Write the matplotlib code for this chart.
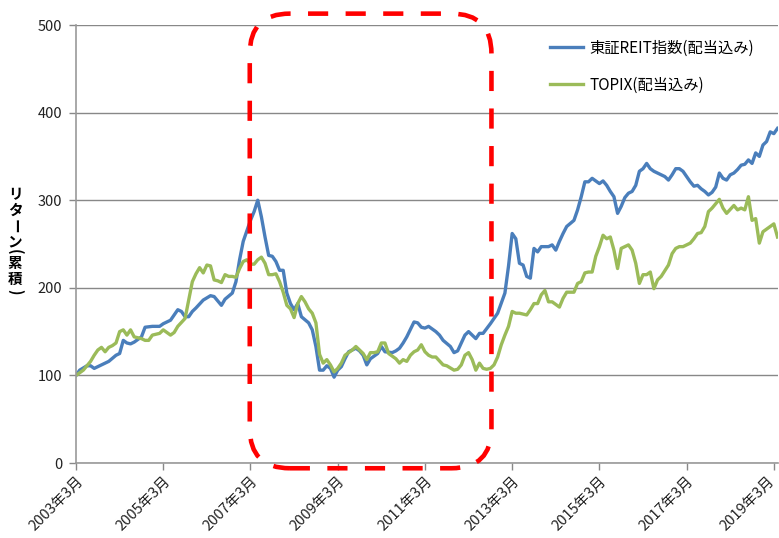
import matplotlib.pyplot as plt
from matplotlib.patches import FancyBboxPatch
from matplotlib.transforms import IdentityTransform

plt.rcParams['font.family'] = ['Noto Sans CJK JP', 'DejaVu Sans']

# months counted from 2003年3月
reit_m = [0, 1, 3, 4, 5, 7, 9, 11, 12, 13, 14, 15, 16, 18, 19, 21, 23, 24, 26, 27,
          28, 29, 30, 31, 32, 33, 35, 37, 38, 40, 41, 43, 44, 45, 46, 48, 49, 50, 51, 52,
          53, 54, 55, 56, 57, 58, 59, 60, 61, 62, 64, 65, 66, 67, 68, 69, 70, 71, 72, 73,
          74, 75, 77, 78, 79, 80, 81, 82, 83, 84, 85, 87, 88, 89, 90, 91, 93, 94, 95, 96,
          97, 99, 100, 101, 103, 104, 105, 107, 108, 110, 111, 112, 114, 115, 116, 118, 119, 120, 121, 122,
          123, 124, 125, 126, 127, 128, 130, 131, 132, 133, 134, 135, 137, 138, 139, 140, 141, 142, 144, 145,
          146, 147, 148, 149, 150, 151, 152, 153, 154, 155, 156, 157, 158, 159, 160, 161, 162, 163, 164, 165,
          166, 167, 168, 169, 170, 171, 172, 173, 174, 175, 176, 177, 178, 179, 180, 181, 182, 183, 184, 185,
          186, 187, 188, 189, 190, 191, 192, 193]
reit = [100, 106, 111, 111, 108, 112, 116, 123, 125, 140, 137, 136, 138, 144, 155, 156, 156, 159, 163, 169,
        175, 173, 167, 167, 173, 177, 186, 191, 190, 180, 187, 194, 207, 232, 253, 277, 287, 300, 281, 258,
        237, 236, 230, 220, 220, 194, 182, 175, 182, 167, 160, 152, 133, 106, 106, 111, 108, 98, 106, 110,
        119, 127, 131, 128, 123, 112, 119, 122, 125, 133, 127, 126, 128, 131, 137, 144, 161, 160, 155, 154,
        156, 150, 146, 140, 133, 126, 128, 146, 150, 142, 148, 148, 159, 165, 171, 194, 225, 262, 256, 228,
        226, 213, 211, 245, 241, 247, 247, 249, 243, 253, 262, 270, 277, 289, 304, 321, 321, 325, 319, 322,
        317, 310, 304, 285, 293, 303, 308, 310, 317, 333, 336, 342, 336, 333, 331, 329, 327, 323, 329, 336,
        336, 333, 327, 321, 316, 317, 313, 310, 306, 309, 315, 331, 325, 323, 329, 331, 335, 340, 341, 346,
        342, 354, 350, 363, 367, 378, 376, 382]

topix_m = [0, 2, 4, 5, 6, 7, 8, 9, 10, 11,
           12, 13, 14, 15, 16, 18, 19, 20, 21, 23,
           24, 26, 27, 28, 30, 31, 32, 33, 34, 35,
           36, 37, 38, 39, 40, 41, 42, 43, 44, 45,
           46, 47, 48, 49, 50, 51, 52, 53, 54, 55,
           56, 57, 58, 59, 60, 61, 62, 63, 64, 65,
           66, 67, 68, 69, 70, 71, 72, 73, 74, 76,
           77, 78, 79, 80, 81, 82, 83, 84, 85, 86,
           87, 88, 89, 90, 91, 92, 93, 94, 95, 96,
           97, 98, 99, 101, 102, 104, 105, 106, 107, 108,
           109, 110, 111, 112, 113, 114, 115, 116, 117, 118,
           119, 120, 121, 122, 124, 125, 126, 127, 128, 129,
           130, 131, 133, 134, 135, 137, 138, 139, 140, 141,
           142, 143, 144, 145, 146, 147, 148, 149, 150, 152,
           153, 154, 155, 156, 157, 158, 159, 160, 161, 163,
           164, 165, 166, 167, 169, 170, 171, 172, 173, 174,
           175, 176, 177, 178, 179, 181, 182, 183, 184, 185,
           186, 187, 188, 189, 191, 192, 193]
topix = [100, 106, 116, 123, 129, 132, 127, 132, 134, 137,
         150, 152, 146, 152, 144, 142, 140, 140, 146, 148,
         152, 146, 149, 156, 165, 186, 207, 216, 223, 217,
         226, 225, 209, 208, 206, 215, 213, 213, 212, 222,
         230, 232, 227, 227, 232, 235, 228, 215, 215, 216,
         207, 195, 180, 176, 166, 182, 190, 184, 176, 171,
         160, 124, 114, 118, 112, 104, 108, 114, 123, 129,
         133, 129, 125, 118, 126, 126, 127, 137, 137, 125,
         122, 119, 114, 118, 116, 123, 127, 129, 135, 127,
         123, 121, 121, 112, 111, 106, 107, 112, 123, 126,
         118, 106, 114, 108, 107, 108, 112, 121, 135, 146,
         156, 173, 171, 171, 169, 175, 182, 182, 192, 197,
         184, 184, 178, 188, 195, 195, 205, 207, 217, 218,
         218, 236, 247, 260, 256, 258, 243, 222, 245, 249,
         243, 228, 205, 215, 215, 218, 199, 209, 213, 226,
         239, 245, 247, 247, 251, 256, 262, 263, 270, 287,
         291, 296, 301, 291, 285, 294, 289, 291, 289, 304,
         277, 279, 251, 264, 270, 273, 258]

tick_m = [0, 24, 48, 72, 96, 120, 144, 168, 192]
tick_labels = ['2003年3月', '2005年3月', '2007年3月', '2009年3月', '2011年3月',
               '2013年3月', '2015年3月', '2017年3月', '2019年3月']

fig = plt.figure(figsize=(7.79, 5.38), dpi=100)
ax = fig.add_axes([0.0976, 0.1394, 0.9014, 0.8141])

ax.plot(reit_m, reit, color='#4A7EBB', lw=2.4, label='東証REIT指数(配当込み)')
ax.plot(topix_m, topix, color='#9BBB59', lw=2.4, label='TOPIX(配当込み)')

ax.set_xlim(0, 193.2)
ax.set_ylim(0, 500)
ax.set_yticks(range(0, 501, 100))
ax.set_xticks(tick_m)
# last date label is drawn by hand, nudged left so it stays inside the picture
ax.set_xticklabels(tick_labels[:-1] + [''], rotation=45, ha='right', va='top',
                   rotation_mode='anchor', fontsize=10.5, color='#222222')
ax.annotate(tick_labels[-1], xy=(tick_m[-1], 0), xycoords=('data', 'axes fraction'),
            xytext=(-5, -8), textcoords='offset points', rotation=45,
            ha='right', va='top', rotation_mode='anchor', fontsize=10.5,
            color='#222222', annotation_clip=False)
ax.tick_params(axis='y', labelsize=10.5, labelcolor='#222222', color='#888888',
               length=5, width=1, pad=5)
ax.tick_params(axis='x', color='#888888', length=5, width=1, pad=3)
ax.grid(axis='y', color='#888888', lw=1)
ax.set_axisbelow(True)
for s in ['top', 'right']:
    ax.spines[s].set_visible(False)
for s in ['left', 'bottom']:
    ax.spines[s].set_color('#999999')
    ax.spines[s].set_linewidth(1.2)

# vertical y label, one character at a time
ylab = ['リ', 'タ', 'ー', 'ン', '(', '累', '積', ')']
ylab_y = [194, 210, 226, 241, 252, 263, 279, 292]
for ch, yy in zip(ylab, ylab_y):
    rot = -90 if ch in 'ー()' else 0
    fig.text(15 / 779, 1 - yy / 538, ch, fontsize=10.5, fontweight='bold',
             rotation=rot, ha='center', va='center')

ax.legend(loc='upper left', bbox_to_anchor=(0.655, 0.998), frameon=False,
          fontsize=11, handlelength=2.2, labelspacing=1.3, handletextpad=0.4)

# red dashed rounded box around 2007-2012
fig.canvas.draw()
x0, y0 = ax.transData.transform((47.8, -6))
x1, y1 = ax.transData.transform((114.3, 513))
box = FancyBboxPatch((x0, y0), x1 - x0, y1 - y0,
                     boxstyle='round,pad=0,rounding_size=40',
                     transform=IdentityTransform(), fill=False,
                     edgecolor='#FF0000', lw=3.3, linestyle=(0, (4.4, 3.8)),
                     clip_on=False, zorder=5)
fig.add_artist(box)

fig.savefig('out.png', dpi=100)
